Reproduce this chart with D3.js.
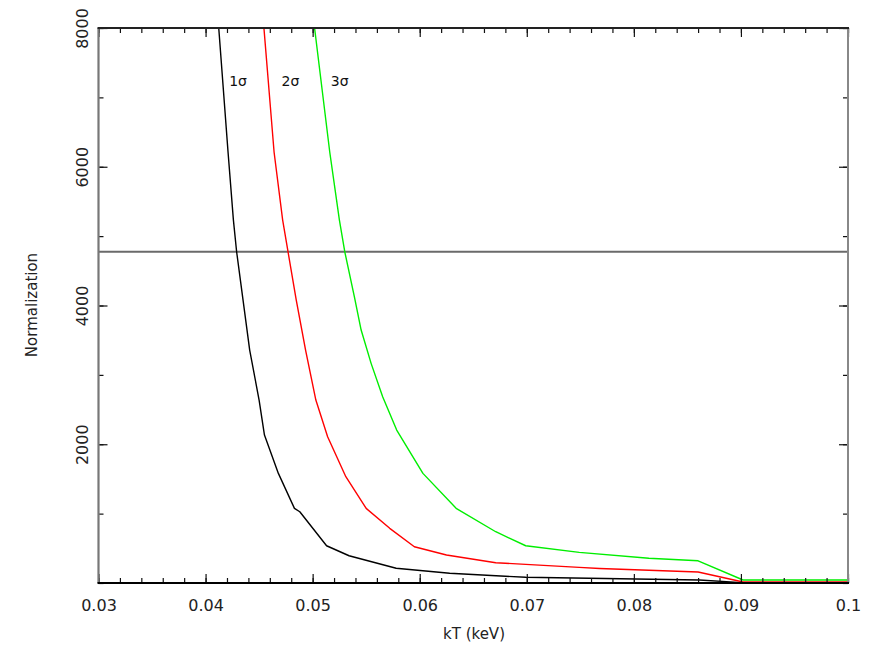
<!DOCTYPE html>
<html><head><meta charset="utf-8">
<script src="https://cdn.jsdelivr.net/npm/d3@7/dist/d3.min.js"></script>
<style>body{margin:0;background:#fff;} svg{display:block;}</style>
</head><body>
<svg id="c" width="872" height="661"></svg>
<script>
// Data
const kT1 = [0.04123,0.0421,0.0426,0.0429,0.0435,0.04412,0.0450,0.0455,0.0468,0.0483,0.0488,0.0513,0.0534,0.0578,0.0628,0.0699,0.0861,0.0901,0.1];
const norm1 = [8000,6209,5231,4775,4078,3357,2637,2133,1580,1076,1027,537,393,212,140,82,43,6,6];
const kT2 = [0.04545,0.0464,0.0472,0.0477,0.04847,0.04934,0.0503,0.0514,0.0531,0.0550,0.0572,0.0595,0.0625,0.0671,0.0699,0.0749,0.0768,0.0860,0.0902,0.1];
const norm2 = [8000,6209,5231,4775,4078,3357,2637,2108,1532,1076,788,523,403,292,269,225,210,158,15,15];
const kT3 = [0.05018,0.0516,0.0525,0.0530,0.0539,0.05453,0.05546,0.05654,0.05785,0.0603,0.0634,0.0671,0.0699,0.0749,0.0814,0.0860,0.0902,0.1];
const norm3 = [8000,6209,5231,4775,4125,3646,3166,2684,2205,1580,1076,739,537,442,356,320,43,43];
const seriesNames = ["1σ","2σ","3σ"];
const seriesColors = ["#000000","#ff0000","#00ee00"];
const labelKT = [0.0422,0.0471,0.0517];
const labelNorm = [7160,7160,7160];
const refLevel = 4775;
const xTicks = [0.03,0.04,0.05,0.06,0.07,0.08,0.09,0.1];
const xTickLabels = ["0.03","0.04","0.05","0.06","0.07","0.08","0.09","0.1"];
const yTicks = [2000,4000,6000,8000];

const svg = d3.select("#c");
const L=98.5, R=848, T=28, B=583;
const x = d3.scaleLinear().domain([0.03,0.1]).range([L,R]);
const y = d3.scaleLinear().domain([0,8000]).range([B,T]);
const font = "DejaVu Sans, Verdana, sans-serif";

svg.append("clipPath").attr("id","pc").append("rect")
  .attr("x",L).attr("y",T).attr("width",R-L).attr("height",B-T);

// curves
const line = d3.line().x(d=>x(d[0])).y(d=>y(d[1]));
const data = [[kT1,norm1],[kT2,norm2],[kT3,norm3]];
const g = svg.append("g").attr("clip-path","url(#pc)");
g.append("line").attr("x1",L).attr("x2",R).attr("y1",y(refLevel)).attr("y2",y(refLevel))
  .attr("stroke","#6a6a6a").attr("stroke-width",2);
data.forEach((s,i)=>{
  const pts = s[0].map((v,j)=>[v,s[1][j]]);
  g.append("path").attr("d",line(pts)).attr("fill","none")
    .attr("stroke",seriesColors[i]).attr("stroke-width",1.4).attr("stroke-linejoin","round");
});

// labels
seriesNames.forEach((n,i)=>{
  svg.append("text").attr("x",x(labelKT[i])).attr("y",y(labelNorm[i]))
    .attr("font-family",font).attr("font-size",14).attr("fill","#111").text(n);
});

// axes
const minorX = d3.range(0,36).map(i=>0.03+i*0.002).filter(v=>v<=0.1001);
const minorY = d3.range(0,9).map(i=>i*1000);
const ax = svg.append("g");
const styleTicks = g=>{g.select(".domain").remove(); g.selectAll("line").attr("stroke","#111").attr("stroke-width",1.2);};
ax.append("g").attr("transform",`translate(0,${B})`)
  .call(d3.axisBottom(x).tickValues(minorX).tickSize(-5).tickFormat("")).call(styleTicks);
ax.append("g").attr("transform",`translate(0,${B})`)
  .call(d3.axisBottom(x).tickValues(xTicks).tickSize(-9).tickPadding(17).tickFormat((d,i)=>xTickLabels[i]))
  .call(styleTicks)
  .call(g=>g.selectAll("text").attr("font-family",font).attr("font-size",16).attr("fill","#222"));
ax.append("g").attr("transform",`translate(0,${T})`)
  .call(d3.axisTop(x).tickValues(minorX).tickSize(-5).tickFormat("")).call(styleTicks);
ax.append("g").attr("transform",`translate(0,${T})`)
  .call(d3.axisTop(x).tickValues(xTicks).tickSize(-9).tickFormat("")).call(styleTicks);
ax.append("g").attr("transform",`translate(${L},0)`)
  .call(d3.axisLeft(y).tickValues(minorY).tickSize(-5).tickFormat("")).call(styleTicks);
ax.append("g").attr("transform",`translate(${L},0)`)
  .call(d3.axisLeft(y).tickValues(yTicks).tickSize(-9).tickFormat(d3.format("d")))
  .call(styleTicks)
  .call(g=>g.selectAll("text").attr("font-family",font).attr("font-size",16).attr("fill","#222")
      .attr("x",0).attr("dy",0).attr("text-anchor","middle")
      .attr("transform","translate(-11,0) rotate(-90)"));
ax.append("g").attr("transform",`translate(${R},0)`)
  .call(d3.axisRight(y).tickValues(minorY).tickSize(-5).tickFormat("")).call(styleTicks);
ax.append("g").attr("transform",`translate(${R},0)`)
  .call(d3.axisRight(y).tickValues(yTicks).tickSize(-9).tickFormat("")).call(styleTicks);

// frame
svg.append("line").attr("x1",L).attr("x2",L).attr("y1",T).attr("y2",B).attr("stroke","#777").attr("stroke-width",2.2);
svg.append("line").attr("x1",R).attr("x2",R).attr("y1",T).attr("y2",B).attr("stroke","#888").attr("stroke-width",2);
svg.append("line").attr("x1",L-1).attr("x2",R+1).attr("y1",B).attr("y2",B).attr("stroke","#000").attr("stroke-width",2);
svg.append("line").attr("x1",L-1).attr("x2",R+1).attr("y1",T).attr("y2",T).attr("stroke","#222").attr("stroke-width",2);

// axis titles
svg.append("text").attr("x",474).attr("y",639).attr("text-anchor","middle")
  .attr("font-family",font).attr("font-size",15).attr("fill","#222").text("kT (keV)");
svg.append("text").attr("transform","translate(37,305) rotate(-90)").attr("text-anchor","middle")
  .attr("font-family",font).attr("font-size",15).attr("fill","#222").text("Normalization");
</script>
</body></html>
